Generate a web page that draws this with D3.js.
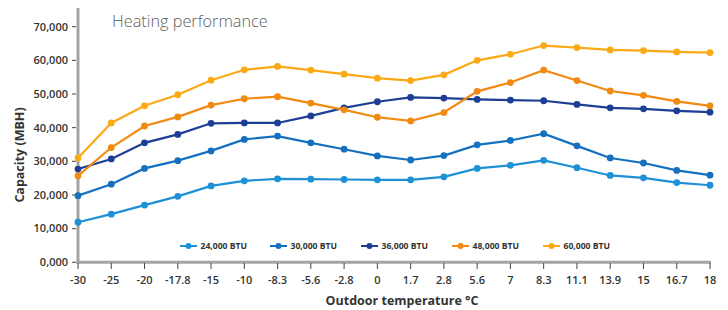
<!DOCTYPE html>
<html><head><meta charset="utf-8">
<script src="https://cdn.jsdelivr.net/npm/d3@7"></script>
<style>
html,body{margin:0;padding:0;background:#fff;}
svg text{font-family:"Open Sans","Lato",sans-serif;}
</style></head>
<body><svg id="c" width="728" height="310"></svg>
<script>
const temps = ["-30","-25","-20","-17.8","-15","-10","-8.3","-5.6","-2.8","0","1.7","2.8","5.6","7","8.3","11.1","13.9","15","16.7","18"];
const yTicks = [0,10000,20000,30000,40000,50000,60000,70000];
const yTickLabels = ["0,000","10,000","20,000","30,000","40,000","50,000","60,000","70,000"];
const seriesNames = ["24,000 BTU","30,000 BTU","36,000 BTU","48,000 BTU","60,000 BTU"];
const seriesColors = ["#1e90d6","#1570c0","#1c3e94","#f28a12","#fba915"];
const s24 = [11900,14300,17000,19600,22700,24200,24800,24700,24600,24500,24500,25400,27900,28800,30300,28100,25800,25100,23700,22900];
const s30 = [19800,23200,27900,30200,33100,36500,37500,35500,33600,31600,30400,31700,34900,36200,38200,34600,31000,29500,27300,25900];
const s36 = [27700,30700,35500,38000,41300,41400,41400,43500,45900,47700,49000,48800,48400,48200,48000,46900,45900,45600,45000,44600];
const s48 = [25700,34100,40500,43200,46700,48600,49200,47300,45300,43100,42000,44500,50800,53400,57100,54000,50900,49600,47800,46500];
const s60 = [31000,41400,46500,49800,54100,57200,58200,57100,55900,54700,54000,55700,60000,61800,64400,63800,63100,62900,62500,62300];
const seriesValues = [s24,s30,s36,s48,s60];

const svg = d3.select("#c");
const x = d3.scalePoint().domain(temps).range([78,710]);
const y = d3.scaleLinear().domain([0,70000]).range([262.3,26.7]);

// title
svg.append("text").attr("x",112).attr("y",27).attr("font-size",16.3).attr("font-weight",300)
  .attr("fill","#5e5e5e").text("Heating performance");

// y axis
const yAxis = svg.append("g");
yAxis.append("line").attr("x1",78).attr("x2",78).attr("y1",8).attr("y2",263.5)
  .attr("stroke","#a3a3a3").attr("stroke-width",3);
yTicks.forEach((t,i)=>{
  yAxis.append("line").attr("x1",72).attr("x2",76).attr("y1",y(t)).attr("y2",y(t)).attr("stroke","#444").attr("stroke-width",1);
  yAxis.append("text").attr("x",68).attr("y",y(t)).attr("dy","0.35em").attr("text-anchor","end")
    .attr("font-size",11).attr("font-weight",600).attr("fill","#333").text(yTickLabels[i]);
});
svg.append("text").attr("transform","translate(24,155) rotate(-90)").attr("text-anchor","middle")
  .attr("font-size",12.5).attr("font-weight",700).attr("fill","#333").text("Capacity (MBH)");

// x axis
const xAxis = svg.append("g");
xAxis.append("line").attr("x1",76.5).attr("x2",711).attr("y1",262.3).attr("y2",262.3)
  .attr("stroke","#a3a3a3").attr("stroke-width",3);
temps.forEach(t=>{
  xAxis.append("line").attr("x1",x(t)).attr("x2",x(t)).attr("y1",263).attr("y2",269).attr("stroke","#444").attr("stroke-width",1);
  xAxis.append("text").attr("x",x(t)).attr("y",280).attr("dy","0.35em").attr("text-anchor","middle")
    .attr("font-size",11).attr("font-weight",600).attr("fill","#333").text(t);
});
svg.append("text").attr("x",402).attr("y",305).attr("text-anchor","middle")
  .attr("font-size",12.5).attr("font-weight",700).attr("fill","#333").text("Outdoor temperature °C");

// lines
const line = d3.line().x((d,i)=>x(temps[i])).y(d=>y(d));
seriesValues.forEach((vals,k)=>{
  const g = svg.append("g");
  g.append("path").attr("d",line(vals)).attr("fill","none").attr("stroke",seriesColors[k]).attr("stroke-width",2.2);
  g.selectAll("circle").data(vals).enter().append("circle")
    .attr("cx",(d,i)=>x(temps[i])).attr("cy",d=>y(d)).attr("r",3.4).attr("fill",seriesColors[k]);
});

// legend
const legX = [180,270,361,452,543];
seriesNames.forEach((n,k)=>{
  const g = svg.append("g").attr("transform",`translate(${legX[k]},246)`);
  g.append("line").attr("x1",0).attr("x2",17).attr("y1",0).attr("y2",0).attr("stroke",seriesColors[k]).attr("stroke-width",2);
  g.append("circle").attr("cx",8.5).attr("cy",0).attr("r",3).attr("fill",seriesColors[k]);
  g.append("text").attr("x",20.5).attr("y",0).attr("dy","0.35em").attr("font-size",8.6).attr("font-weight",700)
    .attr("fill","#333").text(n);
});
</script></body></html>
